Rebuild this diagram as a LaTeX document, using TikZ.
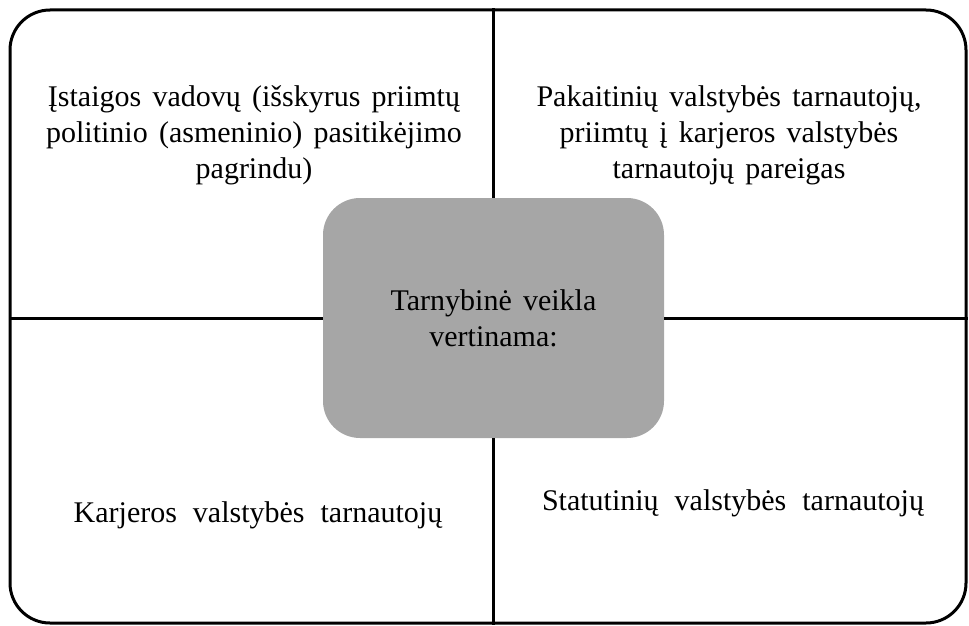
\documentclass[tikz,border=0pt]{standalone}
\usepackage{fontspec}
\setmainfont[WordSpace={1.5}]{Liberation Serif}
\usepackage{tikz}
\usetikzlibrary{positioning,calc}
\definecolor{boxgrey}{HTML}{A6A6A6}
\newcommand{\widegap}{\hspace{16pt}}

\begin{document}
\begin{tikzpicture}[x=1pt,y=-1pt,
    quadtext/.style={align=center,font=\fontsize{30}{36}\selectfont,inner sep=0pt},
    divider/.style={line width=3pt}]
  \useasboundingbox (0,0) rectangle (969,626);

  % Outer frame
  \node[draw,line width=3pt,rounded corners=40pt,minimum width=956pt,minimum height=613pt,
        inner sep=0pt] (frame) at (488,316.5) {};

  % Centre box
  \node[fill=boxgrey,rounded corners=37pt,minimum width=341pt,minimum height=240pt,
        inner sep=0pt,quadtext] (centre) at (493.5,318) {Tarnybinė veikla\\vertinama:};

  % Dividers
  \draw[divider] (centre.north) -- (centre.north |- frame.north);
  \draw[divider] (centre.south) -- (centre.south |- frame.south);
  \draw[divider] (centre.west) -- (centre.west -| frame.west);
  \draw[divider] (centre.east) -- (centre.east -| frame.east);

  % Quadrant texts
  \node[quadtext] (topleft) at (254,135)
    {Įstaigos vadovų (išskyrus priimtų\\politinio (asmeninio) pasitikėjimo\\pagrindu)};
  \node[quadtext] (topright) at (729,135)
    {Pakaitinių valstybės tarnautojų,\\priimtų į karjeros valstybės\\tarnautojų pareigas};
  \node[quadtext] (bottomleft) at (258,515)
    {Karjeros\widegap valstybės\widegap tarnautojų};
  \node[quadtext] (bottomright) at (733,503)
    {Statutinių\widegap valstybės\widegap tarnautojų};
\end{tikzpicture}
\end{document}
